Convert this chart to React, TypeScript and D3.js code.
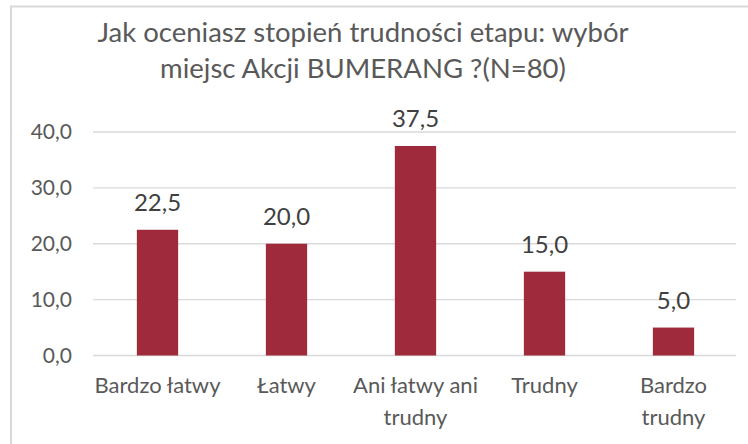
import React from "react";
import * as d3 from "d3";

const categories: string[][] = [
  ["Bardzo łatwy"],
  ["Łatwy"],
  ["Ani łatwy ani", "trudny"],
  ["Trudny"],
  ["Bardzo", "trudny"],
];
const values: number[] = [22.5, 20.0, 37.5, 15.0, 5.0];
const yTicks: number[] = [0, 10, 20, 30, 40];
const titleLines: string[] = [
  "Jak oceniasz stopień trudności etapu: wybór",
  "miejsc Akcji BUMERANG ?(N=80)",
];

const W = 748;
const H = 444;
const FONT = "Lato, 'Open Sans', sans-serif";
const fmt = (v: number) => v.toFixed(1).replace(".", ",");

export default function App() {
  const x = d3
    .scaleBand<number>()
    .domain(d3.range(values.length))
    .range([93, 738])
    .paddingInner(0.68)
    .paddingOuter(0.34);
  const y = d3.scaleLinear().domain([0, 40]).range([355.5, 132]);

  return (
    <svg
      width={W}
      height={H}
      style={{ position: "absolute", left: 0, top: 0, background: "#fff" }}
      fontFamily={FONT}
    >
      <rect x={0} y={0} width={W} height={H} fill="#fff" />
      <rect
        x={11}
        y={6.5}
        width={W + 20}
        height={H + 20}
        fill="none"
        stroke="#d9d9d9"
        strokeWidth={2}
      />
      {titleLines.map((t, i) => (
        <text
          key={i}
          x={363}
          y={42 + i * 36}
          textAnchor="middle"
          fontSize={27.5}
          fill="#595959"
        >
          {t}
        </text>
      ))}
      {yTicks.map((t) => (
        <g key={t}>
          <line
            x1={93}
            x2={736}
            y1={y(t)}
            y2={y(t)}
            stroke="#d9d9d9"
            strokeWidth={1.3}
          />
          <text
            x={72}
            y={y(t) + 7}
            textAnchor="end"
            fontSize={21}
            fill="#595959"
          >
            {fmt(t)}
          </text>
        </g>
      ))}
      {values.map((v, i) => (
        <g key={i}>
          <rect
            x={x(i)!}
            y={y(v)}
            width={x.bandwidth()}
            height={y(0) - y(v)}
            fill="#9e2a3b"
          />
          <text
            x={x(i)! + x.bandwidth() / 2}
            y={y(v) - 19}
            textAnchor="middle"
            fontSize={24}
            fill="#404040"
          >
            {fmt(v)}
          </text>
          {categories[i].map((line, j) => (
            <text
              key={j}
              x={x(i)! + x.bandwidth() / 2}
              y={392.7 + j * 32.5}
              textAnchor="middle"
              fontSize={22}
              fill="#595959"
            >
              {line}
            </text>
          ))}
        </g>
      ))}
    </svg>
  );
}
